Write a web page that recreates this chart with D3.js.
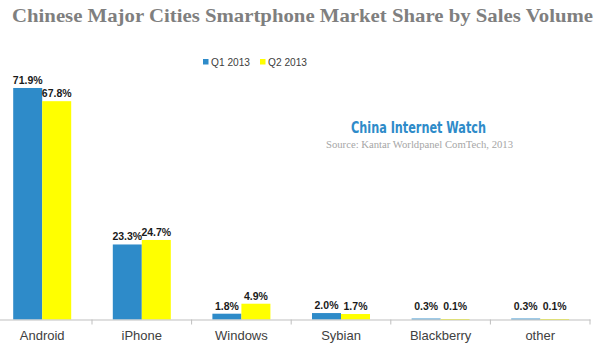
<!DOCTYPE html>
<html><head><meta charset="utf-8">
<script src="https://cdn.jsdelivr.net/npm/d3@7"></script>
<style>body{margin:0;background:#fff;}svg{display:block;}</style>
</head><body>
<svg id="c" width="600" height="353"></svg>
<script>
const categories = ["Android","iPhone","Windows","Sybian","Blackberry","other"];
const seriesNames = ["Q1 2013","Q2 2013"];
const q1 = [71.9, 23.3, 1.8, 2.0, 0.3, 0.3];
const q2 = [67.8, 24.7, 4.9, 1.7, 0.1, 0.1];
const colors = ["#2E8BC9","#FFFF00"];

const svg = d3.select("#c");
const base = 319.5;
const x = d3.scaleBand().domain(categories).range([-7.6, 590]).paddingInner(0).paddingOuter(0);
const y = d3.scaleLinear().domain([0, 80]).range([base, base - 257.6]);
const xs = d3.scaleBand().domain(seriesNames).range([0, 58]);
const off = (x.bandwidth() - 58) / 2;

const data = categories.map((c, i) => ({c, vals: [q1[i], q2[i]]}));

// title
svg.append("text").attr("x", 12).attr("y", 22)
  .attr("textLength", 581).attr("lengthAdjust", "spacingAndGlyphs")
  .style("font-family", "Liberation Serif, serif").style("font-weight", "bold")
  .style("font-size", "19px").style("fill", "#7F7F7F")
  .text("Chinese Major Cities Smartphone Market Share by Sales Volume");

// legend
const leg = svg.append("g").style("font-family", "Liberation Sans, Arial, sans-serif").style("font-size", "11px").style("fill", "#404040");
const legX = [203, 260];
seriesNames.forEach((s, i) => {
  leg.append("rect").attr("x", legX[i]).attr("y", 59).attr("width", 5.5).attr("height", 5.5).attr("fill", colors[i]);
  leg.append("text").attr("x", legX[i] + 8).attr("y", 66).attr("textLength", 39).attr("lengthAdjust", "spacingAndGlyphs").text(s);
});

// bars
const g = svg.append("g");
data.forEach(d => {
  d.vals.forEach((v, j) => {
    const bx = x(d.c) + off + xs(seriesNames[j]);
    g.append("rect").attr("x", bx).attr("y", y(v)).attr("width", xs.bandwidth())
      .attr("height", Math.max(base - y(v), 0.8)).attr("fill", colors[j]);
    g.append("text").attr("x", bx + xs.bandwidth() / 2).attr("y", Math.min(y(v), base - 6) - 4)
      .attr("text-anchor", "middle")
      .style("font-family", "Liberation Sans, Arial, sans-serif").style("font-weight", "bold")
      .style("font-size", "10.5px").style("fill", "#1a1a1a")
      .text(v.toFixed(1) + "%");
  });
});

// axis
const axis = d3.axisBottom(x).tickSize(0).tickPadding(11);
const ag = svg.append("g").attr("transform", `translate(0,${base})`).call(axis);
ag.select(".domain").attr("stroke", "#BFBFBF");
ag.selectAll("text").style("font-family", "Liberation Sans, Arial, sans-serif").style("font-size", "13px").style("fill", "#404040");
// category boundary ticks
const bounds = categories.map(c => x(c) + x.bandwidth());
ag.selectAll(".bt").data(bounds).enter().append("line")
  .attr("x1", d => d).attr("x2", d => d).attr("y1", 0).attr("y2", 5).attr("stroke", "#BFBFBF");

// watermark
svg.append("text").attr("x", 351).attr("y", 133).attr("textLength", 135).attr("lengthAdjust", "spacingAndGlyphs")
  .style("font-family", "DejaVu Sans Condensed, Liberation Sans Narrow, sans-serif").style("font-weight", "bold")
  .style("font-size", "15px").style("fill", "#2E8BC9").text("China Internet Watch");
svg.append("text").attr("x", 326).attr("y", 148).attr("textLength", 187).attr("lengthAdjust", "spacingAndGlyphs")
  .style("font-family", "Liberation Serif, serif").style("font-size", "10px").style("fill", "#A6A6A6")
  .text("Source: Kantar Worldpanel ComTech, 2013");
</script>
</body></html>
